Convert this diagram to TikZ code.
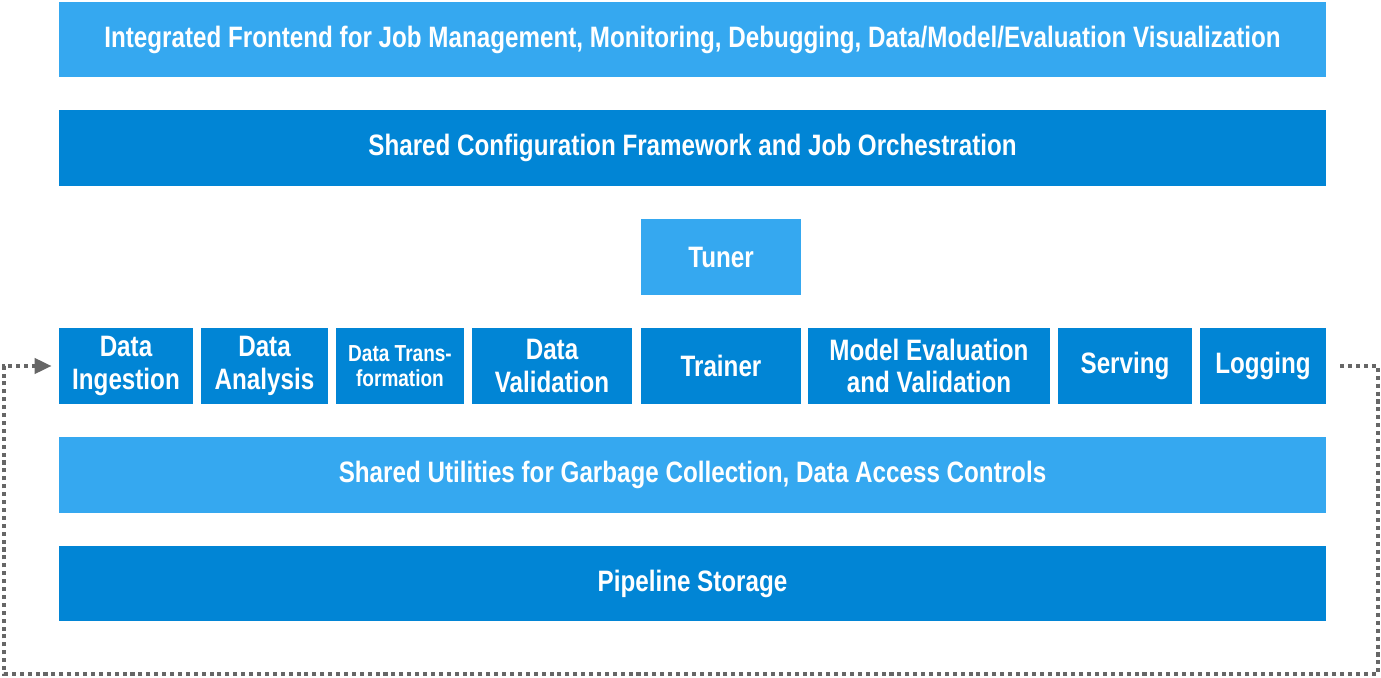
\documentclass[tikz,border=0pt]{standalone}
\usepackage{fontspec}
\setmainfont{Liberation Sans}[FakeStretch=0.82]
\usetikzlibrary{arrows.meta}

\definecolor{lightblue}{RGB}{53,168,240}
\definecolor{darkblue}{RGB}{1,133,213}
\definecolor{loopgray}{RGB}{102,102,102}

\tikzset{
  block/.style={rectangle, inner sep=0pt, text=white, align=center,
    font=\bfseries\fontsize{16.8}{18.4}\selectfont, minimum height=1.52cm},
  lightbar/.style={block, fill=lightblue, minimum width=25.34cm},
  darkbar/.style={block, fill=darkblue, minimum width=25.34cm},
  stage/.style={block, fill=darkblue},
  feedback/.style={draw=loopgray, line width=2.2pt, dash pattern=on 2.3pt off 2.2pt,
    -{Triangle[length=0.34cm,width=0.3cm]}, shorten <=0.28cm, shorten >=0.14cm},
}

\begin{document}
\begin{tikzpicture}[x=0.02cm, y=-0.02cm]
  \useasboundingbox (0,0) rectangle (1381,678);

  % layers across the whole pipeline
  \node[lightbar] (frontend) at (692.5,39.5) {Integrated Frontend for Job Management, Monitoring, Debugging, Data/Model/Evaluation Visualization};
  \node[darkbar] (config) at (692.5,148) {Shared Configuration Framework and Job Orchestration};
  \node[block, fill=lightblue, minimum width=3.2cm] (tuner) at (721,257) {Tuner};

  % pipeline stages
  \node[stage, minimum width=2.68cm] (ingestion) at (126,366) {Data\\Ingestion};
  \node[stage, minimum width=2.54cm] (analysis) at (264.5,366) {Data\\Analysis};
  \node[stage, minimum width=2.56cm, font=\bfseries\fontsize{13.2}{14.4}\selectfont] (transform) at (400,366) {Data Trans-\\formation};
  \node[stage, minimum width=3.2cm] (validation) at (552,366) {Data\\Validation};
  \node[stage, minimum width=3.2cm] (trainer) at (721,366) {Trainer};
  \node[stage, minimum width=4.84cm] (evaluation) at (929,366) {Model Evaluation\\and Validation};
  \node[stage, minimum width=2.68cm] (serving) at (1125,366) {Serving};
  \node[stage, minimum width=2.52cm] (logging) at (1263,366) {Logging};

  \node[lightbar] (utilities) at (692.5,475) {Shared Utilities for Garbage Collection, Data Access Controls};
  \node[darkbar] (storage) at (692.5,583.5) {Pipeline Storage};

  % loop back from logging to ingestion
  \coordinate (loopR) at (1378,674);
  \coordinate (loopL) at (4,674);
  \draw[feedback] (logging.east) -| (loopR) -- (loopL) |- (ingestion.west);
\end{tikzpicture}
\end{document}
